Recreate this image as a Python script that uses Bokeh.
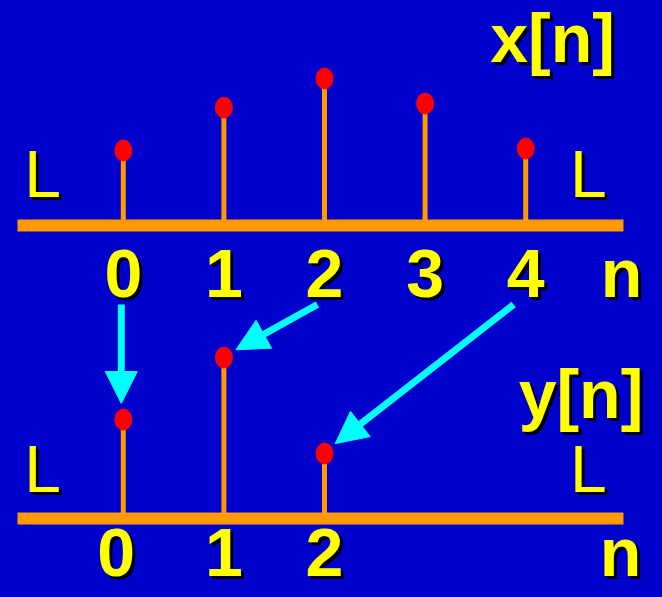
import math
from bokeh.plotting import figure
from bokeh.models import Range1d, ColumnDataSource, Arrow, NormalHead, GlobalInlineStyleSheet
from bokeh.core.properties import value
from bokeh.embed import file_html
from bokeh.resources import INLINE

# ---------------- data ----------------
x_n = [0, 1, 2, 3, 4]
x_vals = [0.75, 1.18, 1.47, 1.22, 0.77]
y_n = [0, 1, 2]
y_vals = [0.99, 1.61, 0.65]
src_index = [0, 2, 4]          # y[n] = x[2n]
x_tick_labels = ["0", "1", "2", "3", "4"]
y_tick_labels = ["0", "1", "2"]
x_title = "x[n]"
y_title = "y[n]"
axis_name = "n"
dots_label = "L"

# ---------------- layout / style ----------------
BLUE = "#0000CC"
ORANGE = "#FF9900"
RED = "#FF0000"
YELLOW = "#FFFF00"
CYAN = "#00FFFF"
FONT = value("Liberation Sans")

W, H = 646, 581
PX_N = 100.6     # px per n unit
PX_Y = 100.0     # px per y unit
X0 = 122.8       # px position of n = 0
X_LO, X_HI = -X0 / PX_N, (W - X0) / PX_N
Y_HI = 5.97
Y_LO = Y_HI - H / PX_Y
TOP_BASE = 3.72
BOT_BASE = 0.79
AX_L, AX_R = -1.052, 4.972
CAP_MID = 0.243    # half cap height (68px bold), in y units

p = figure(width=W, height=H, x_range=Range1d(X_LO, X_HI), y_range=Range1d(Y_LO, Y_HI),
           output_backend="svg", toolbar_location=None, min_border=0)
p.axis.visible = False
p.grid.visible = False
p.outline_line_color = None
p.background_fill_color = BLUE
p.border_fill_color = BLUE
p.stylesheets = [GlobalInlineStyleSheet(css="body { background-color: %s; }" % BLUE)]

# axis bars
p.segment(x0=[AX_L, AX_L], y0=[TOP_BASE, BOT_BASE], x1=[AX_R, AX_R], y1=[TOP_BASE, BOT_BASE],
          line_color=ORANGE, line_width=12, line_cap="butt")

# stems
xs_top = ColumnDataSource(dict(n=x_n, base=[TOP_BASE] * len(x_n),
                               top=[TOP_BASE + v for v in x_vals]))
ys_bot = ColumnDataSource(dict(n=y_n, base=[BOT_BASE] * len(y_n),
                               top=[BOT_BASE + v for v in y_vals]))
for src in (xs_top, ys_bot):
    p.segment(x0="n", y0="base", x1="n", y1="top", source=src,
              line_color=ORANGE, line_width=5, line_cap="butt")
    p.ellipse(x="n", y="top", width=17, height=21, width_units="screen", height_units="screen",
              source=src, fill_color=RED, line_color=RED)

# arrows from x[2n] labels to y[n] dots
ARROW_DX = 0.05
ARROW_SHIFT = -0.02
START_DROP = 0.79
GAP = 16.0
xs_, ys_, xe_, ye_ = [], [], [], []
for m, k in enumerate(src_index):
    sx = x_n[k] + ARROW_SHIFT - ARROW_DX * (x_n[k] - y_n[m])
    sy = TOP_BASE - START_DROP
    dx_, dy_ = y_n[m] + ARROW_SHIFT, BOT_BASE + y_vals[m]
    vx, vy = (sx - dx_) * PX_N, (sy - dy_) * PX_Y
    L = math.hypot(vx, vy)
    xs_.append(sx); ys_.append(sy)
    xe_.append(dx_ + GAP * vx / L / PX_N)
    ye_.append(dy_ + GAP * vy / L / PX_Y)
arr_src = ColumnDataSource(dict(xs=xs_, ys=ys_, xe=xe_, ye=ye_))
p.add_layout(Arrow(end=NormalHead(size=32, fill_color=CYAN, line_color=CYAN, line_width=1),
                   x_start="xs", y_start="ys", x_end="xe", y_end="ye", source=arr_src,
                   line_color=CYAN, line_width=7))


def shadow_text(x, y, text, size, bold=True, align="center", mid=CAP_MID):
    # y is the baseline; text is anchored at the middle of the capitals
    src = ColumnDataSource(dict(x=x, y=[v + mid for v in y], t=text))
    style = "bold" if bold else "normal"
    p.text(x="x", y="y", text="t", source=src, text_color="black", x_offset=3, y_offset=3,
           text_font=FONT, text_font_style=style, text_font_size=size,
           text_align=align, text_baseline="middle")
    p.text(x="x", y="y", text="t", source=src, text_color=YELLOW,
           text_font=FONT, text_font_style=style, text_font_size=size,
           text_align=align, text_baseline="middle")


# tick labels
shadow_text(x_n + [4.952], [TOP_BASE - 0.72] * (len(x_n) + 1), x_tick_labels + [axis_name], "68px")
shadow_text([v - 0.07 * (v == 0) for v in y_n] + [4.942], [BOT_BASE - 0.58] * (len(y_n) + 1),
            y_tick_labels + [axis_name], "68px")

# titles
shadow_text([3.648], [5.35], [x_title], "68px", align="left")
shadow_text([3.93], [1.79], [y_title], "68px", align="left")

# ellipsis marks
shadow_text([-0.803, 4.624, -0.803, 4.624],
            [TOP_BASE + 0.28, TOP_BASE + 0.28, BOT_BASE + 0.26, BOT_BASE + 0.26],
            [dots_label] * 4, "66px", bold=False, mid=0.236)

open("out.html", "w").write(file_html(p, INLINE))
